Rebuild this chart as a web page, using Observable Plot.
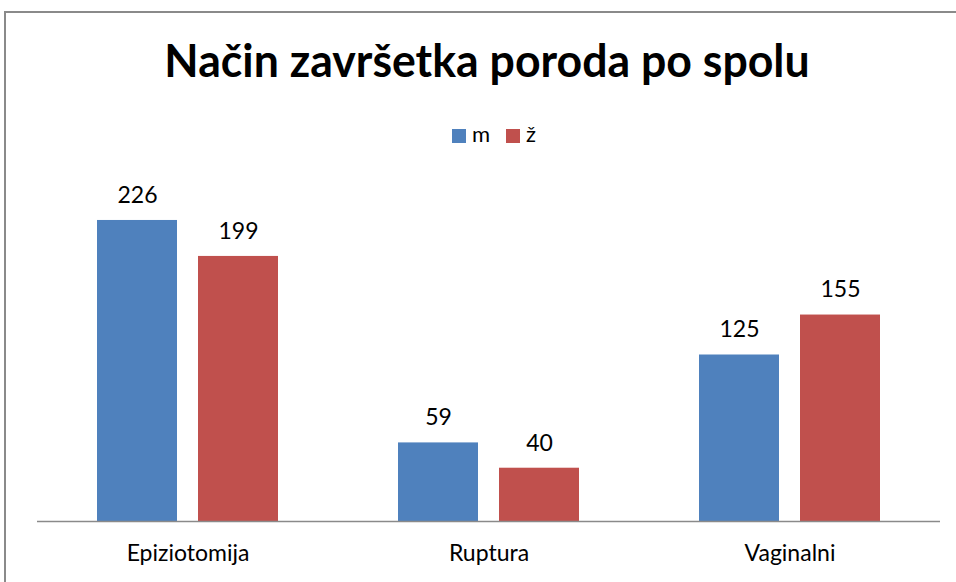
<!DOCTYPE html>
<html>
<head>
<meta charset="utf-8">
<script src="https://cdn.jsdelivr.net/npm/d3@7"></script>
<script src="https://cdn.jsdelivr.net/npm/@observablehq/plot@0.6"></script>
<style>
  html, body { margin: 0; padding: 0; background: #fff; overflow: hidden; }
  #wrap { position: relative; width: 956px; height: 582px; overflow: hidden; font-family: Lato, "Open Sans", sans-serif; }
  #frame { position: absolute; left: 4px; top: 11px; width: 1000px; height: 1000px; border: 2px solid #8a8a8a; box-sizing: border-box; }
  #title { position: absolute; left: 0; width: 974px; top: 37px; text-align: center; font-size: 46px; font-weight: bold; color: #000; line-height: 1; transform: scaleX(0.97); transform-origin: 487px 0; }
  #legend { position: absolute; left: 0; width: 988px; top: 124px; text-align: center; font-size: 22px; color: #000; line-height: 20px; }
  #legend span.sw { display: inline-block; width: 14px; height: 14px; vertical-align: -1px; margin-right: 6px; }
  #legend span.item { margin: 0 8px; }
  #chart { position: absolute; left: 0; top: 0; }
</style>
</head>
<body>
<div id="wrap">
  <div id="frame"></div>
  <div id="chart"></div>
  <div id="title">Način završetka poroda po spolu</div>
  <div id="legend"></div>
</div>
<script>
const categories = ["Epiziotomija", "Ruptura", "Vaginalni"];
const seriesNames = ["m", "ž"];
const seriesColors = ["#4F81BD", "#C0504D"];
const valuesM = [226, 59, 125];
const valuesZ = [199, 40, 155];

const rows = [];
categories.forEach((c, i) => {
  rows.push({category: c, series: "m", value: valuesM[i]});
  rows.push({category: c, series: "ž", value: valuesZ[i]});
});

const plot = Plot.plot({
  width: 956,
  height: 582,
  marginLeft: 37,
  marginRight: 16,
  marginTop: 188,
  marginBottom: 61,
  style: {background: "transparent", fontFamily: "Lato, 'Open Sans', sans-serif"},
  fx: {domain: categories, padding: 0, axis: null},
  x: {domain: seriesNames, paddingInner: 0.208, paddingOuter: 0.594, axis: null},
  y: {domain: [0, 250], axis: null},
  color: {domain: seriesNames, range: seriesColors},
  marks: [
    Plot.barY(rows, {fx: "category", x: "series", y: "value", fill: "series"}),
    Plot.ruleY([0], {stroke: "#8a8a8a", strokeWidth: 1.5}),
    Plot.text(rows, {fx: "category", x: "series", y: "value", text: d => String(d.value), dy: -25, fontSize: 23, fill: "#000"}),
    Plot.text(categories, {fx: d => d, frameAnchor: "bottom", dy: 39, text: d => d, fontSize: 23, fill: "#000"})
  ]
});
document.getElementById("chart").appendChild(plot);

const legend = document.getElementById("legend");
seriesNames.forEach((s, i) => {
  const item = document.createElement("span");
  item.className = "item";
  const sw = document.createElement("span");
  sw.className = "sw";
  sw.style.background = seriesColors[i];
  item.appendChild(sw);
  item.appendChild(document.createTextNode(s));
  legend.appendChild(item);
});
</script>
</body>
</html>
